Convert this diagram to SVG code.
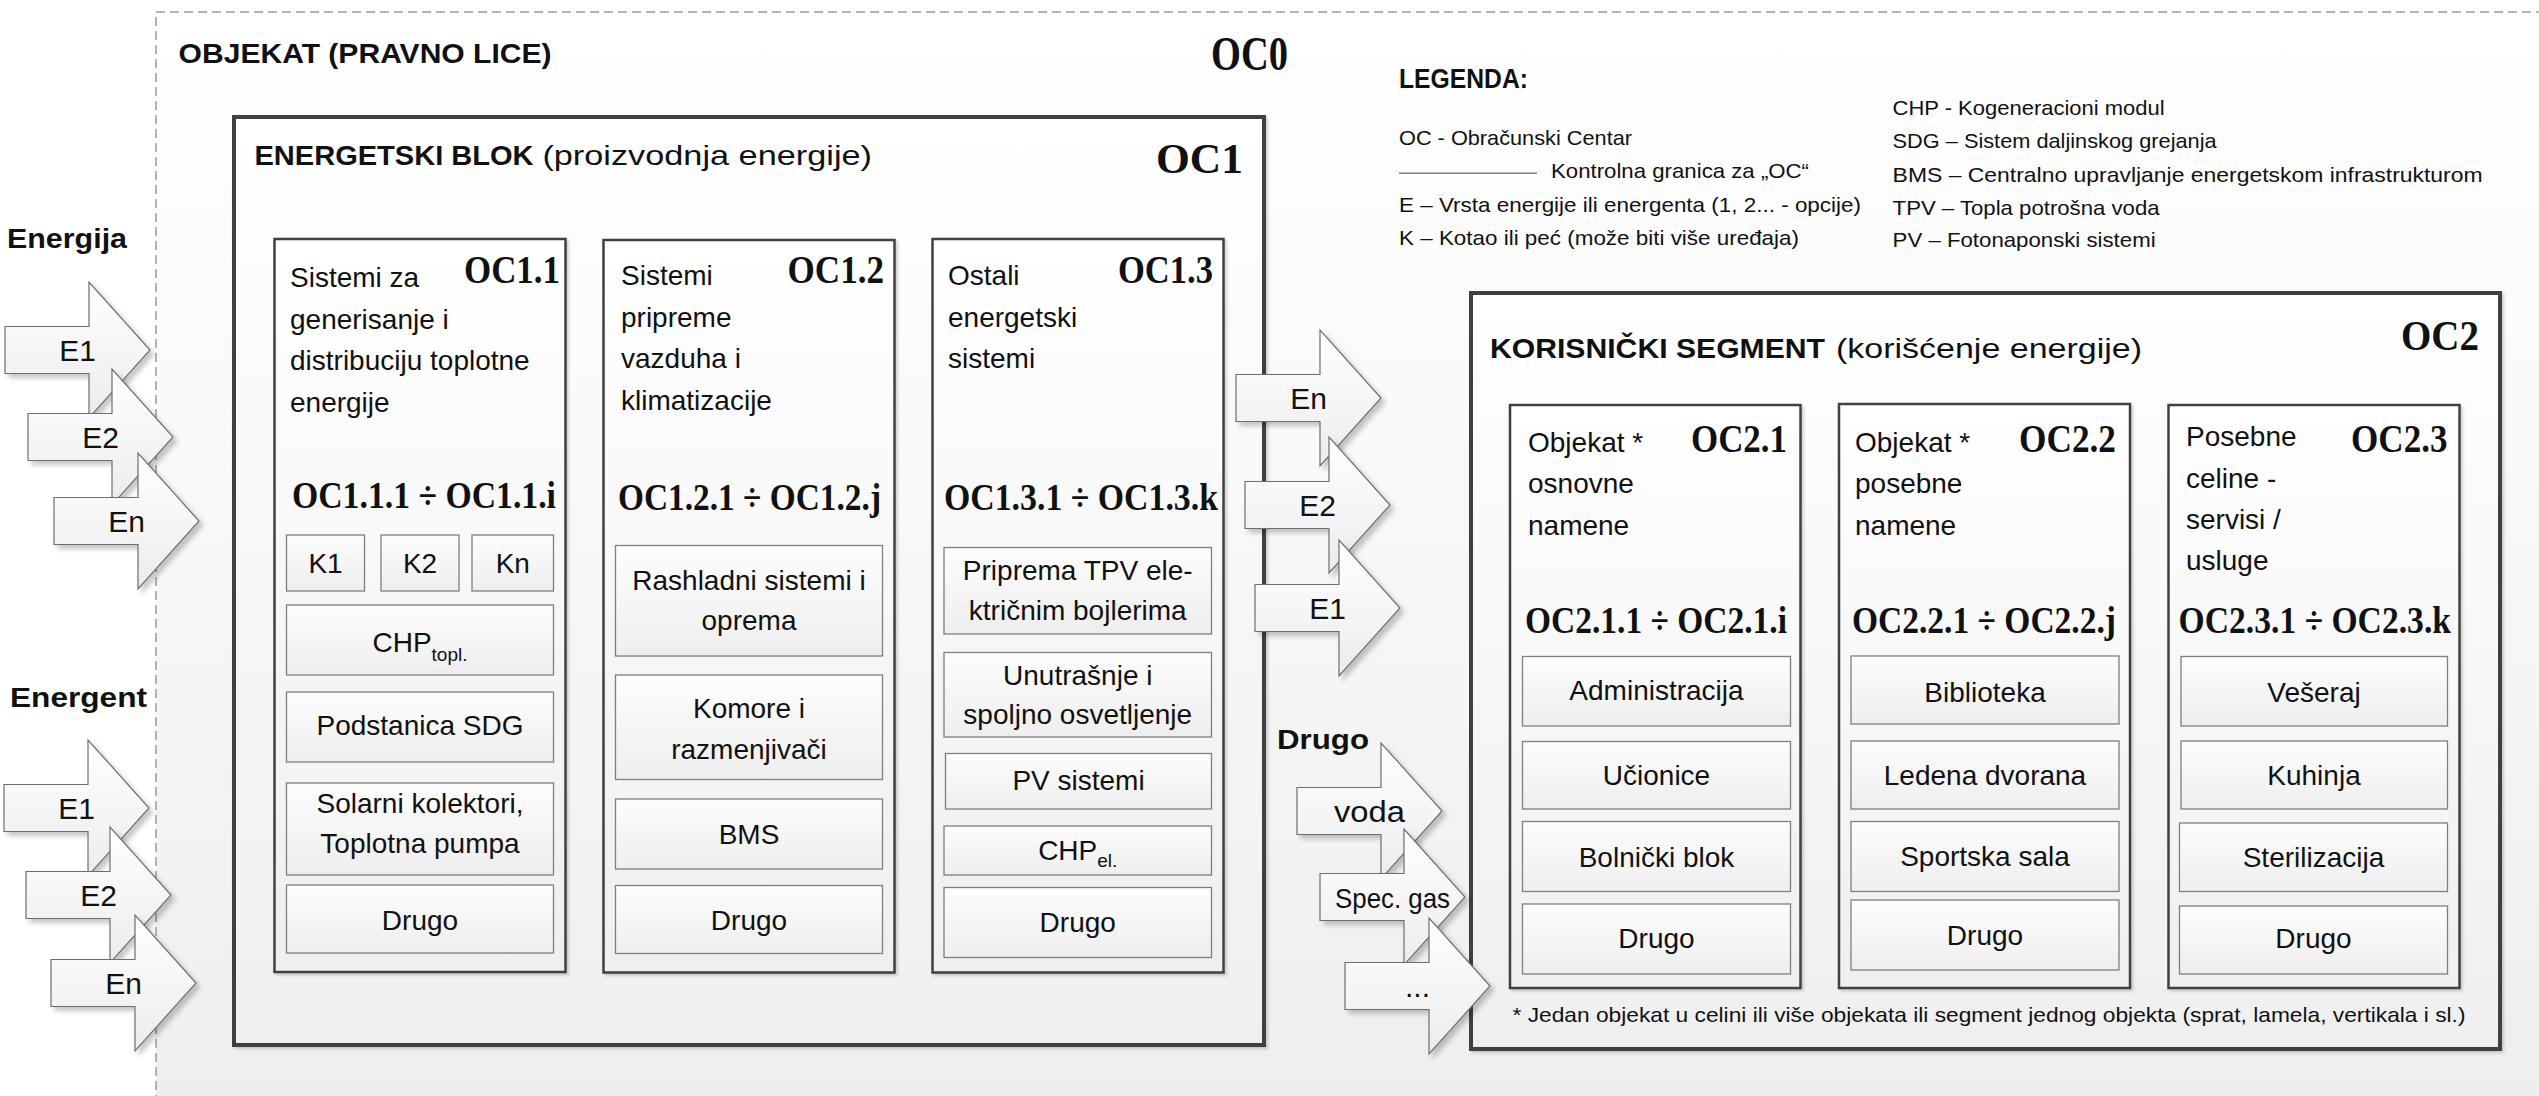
<svg xmlns="http://www.w3.org/2000/svg" xmlns:xlink="http://www.w3.org/1999/xlink" width="2539" height="1096" viewBox="0 0 2539 1096">
  <style>
    .t { font-family: "Liberation Sans", Arial, sans-serif; font-size: 28px; fill: #111; }
    .c { text-anchor: middle; }
    .b { font-weight: bold; }
    .lg { font-size: 21px; }
    .al { font-size: 30px; }
    .s { font-family: "Liberation Serif", "Times New Roman", serif; font-weight: bold; fill: #111; }
    .big { fill: url(#gBox); stroke: #404040; stroke-width: 4; filter: url(#shBox); }
    .mid { fill: url(#gBox); stroke: #404040; stroke-width: 2.5; filter: url(#shBox); }
    .item { fill: url(#gItem); stroke: #7f7f7f; stroke-width: 1.3; }
    .arrow { fill: url(#gArrow); stroke: #6e6e6e; stroke-width: 1.2; filter: url(#shArrow); }
  </style>
  <defs>
    <linearGradient id="gPage" x1="0" y1="0" x2="0" y2="1">
      <stop offset="0" stop-color="#ffffff"/>
      <stop offset="0.35" stop-color="#fafafa"/>
      <stop offset="1" stop-color="#eeeeee"/>
    </linearGradient>
    <linearGradient id="gBox" x1="0" y1="0" x2="0" y2="1">
      <stop offset="0" stop-color="#ffffff"/>
      <stop offset="1" stop-color="#efefef"/>
    </linearGradient>
    <linearGradient id="gItem" x1="0" y1="0" x2="0" y2="1">
      <stop offset="0" stop-color="#fdfdfd"/>
      <stop offset="1" stop-color="#eeeeee"/>
    </linearGradient>
    <linearGradient id="gArrow" x1="0" y1="0" x2="0" y2="1">
      <stop offset="0" stop-color="#ffffff"/>
      <stop offset="1" stop-color="#ececec"/>
    </linearGradient>
    <filter id="shArrow" x="-10%" y="-10%" width="130%" height="130%">
      <feDropShadow dx="4" dy="4" stdDeviation="2.5" flood-color="#000" flood-opacity="0.22"/>
    </filter>
    <filter id="shBox" x="-5%" y="-5%" width="110%" height="110%">
      <feDropShadow dx="2" dy="2" stdDeviation="1.5" flood-color="#000" flood-opacity="0.18"/>
    </filter>
    <!-- block arrow: shaft from x=0, centred on y=0, tip at x=145 -->
    <path id="arw" d="M0,-23.5 H84 V-68 L145,0 L84,68 V23.5 H0 Z"/>
  </defs>

  <!-- page -->
  <rect x="0" y="0" width="2539" height="1096" fill="#ffffff"/>

  <!-- OC0: legal entity frame -->
  <g id="oc0">
    <rect x="156" y="12" width="2400" height="1100" fill="url(#gPage)" stroke="#9a9a9a" stroke-width="1.5" stroke-dasharray="9 5"/>
    <text class="t b" x="178.6" y="63" font-size="34" textLength="373" lengthAdjust="spacingAndGlyphs">OBJEKAT (PRAVNO LICE)</text>
    <text class="s" x="1211" y="70" font-size="48" textLength="77" lengthAdjust="spacingAndGlyphs">OC0</text>
  </g>

  <!-- input group labels -->
  <g id="labels">
    <text class="t b" x="7" y="248" font-size="30" textLength="120" lengthAdjust="spacingAndGlyphs">Energija</text>
    <text class="t b" x="10" y="707" font-size="30" textLength="137" lengthAdjust="spacingAndGlyphs">Energent</text>
    <text class="t b" x="1277" y="749" font-size="30" textLength="92" lengthAdjust="spacingAndGlyphs">Drugo</text>
  </g>

  <!-- legend -->
  <g id="legend">
    <text class="t b" x="1399" y="88" font-size="23" textLength="129" lengthAdjust="spacingAndGlyphs">LEGENDA:</text>
    <text class="t lg" x="1399" y="145" textLength="233" lengthAdjust="spacingAndGlyphs">OC - Obračunski Centar</text>
    <line x1="1399" y1="173.3" x2="1537" y2="173.3" stroke="#7f7f7f" stroke-width="1.5"/>
    <text class="t lg" x="1551" y="178.3" textLength="258" lengthAdjust="spacingAndGlyphs">Kontrolna granica za „OC“</text>
    <text class="t lg" x="1399" y="211.7" textLength="462" lengthAdjust="spacingAndGlyphs">E – Vrsta energije ili energenta (1, 2... - opcije)</text>
    <text class="t lg" x="1399" y="245" textLength="400" lengthAdjust="spacingAndGlyphs">K – Kotao ili peć (može biti više uređaja)</text>
    <text class="t lg" x="1892.6" y="115" textLength="272" lengthAdjust="spacingAndGlyphs">CHP - Kogeneracioni modul</text>
    <text class="t lg" x="1892.6" y="148.3" textLength="324" lengthAdjust="spacingAndGlyphs">SDG – Sistem daljinskog grejanja</text>
    <text class="t lg" x="1892.6" y="181.7" textLength="590" lengthAdjust="spacingAndGlyphs">BMS – Centralno upravljanje energetskom infrastrukturom</text>
    <text class="t lg" x="1892.6" y="215" textLength="267" lengthAdjust="spacingAndGlyphs">TPV – Topla potrošna voda</text>
    <text class="t lg" x="1892.6" y="246.7" textLength="263" lengthAdjust="spacingAndGlyphs">PV – Fotonaponski sistemi</text>
  </g>

  <!-- OC1: energy block -->
  <g id="oc1">
    <rect class="big" x="234" y="117" width="1030" height="928"/>
    <text class="t b" x="254.5" y="165" font-size="32" textLength="279" lengthAdjust="spacingAndGlyphs">ENERGETSKI BLOK</text>
    <text class="t" x="542.4" y="165" font-size="32" textLength="329.6" lengthAdjust="spacingAndGlyphs">(proizvodnja energije)</text>
    <text class="s" x="1156" y="173" font-size="42" textLength="87" lengthAdjust="spacingAndGlyphs">OC1</text>
  </g>

  <g id="oc1-1">
    <rect class="mid" x="274.5" y="239" width="291" height="733"/>
    <text class="t" x="290" y="287">Sistemi za</text>
    <text class="t" x="290" y="329">generisanje i</text>
    <text class="t" x="290" y="370">distribuciju toplotne</text>
    <text class="t" x="290" y="412">energije</text>
    <text class="s" x="464" y="283" font-size="39" textLength="96" lengthAdjust="spacingAndGlyphs">OC1.1</text>
    <text class="s" x="292" y="508" font-size="37" textLength="264" lengthAdjust="spacingAndGlyphs">OC1.1.1 ÷ OC1.1.i</text>
    <g id="oc1-1-k1"><rect class="item" x="286.5" y="535" width="78" height="56"/><text class="t c" x="325.5" y="573">K1</text></g>
    <g id="oc1-1-k2"><rect class="item" x="381" y="535" width="78" height="56"/><text class="t c" x="420" y="573">K2</text></g>
    <g id="oc1-1-kn"><rect class="item" x="472" y="535" width="81.5" height="56"/><text class="t c" x="512.75" y="573">Kn</text></g>
    <g id="oc1-1-chp"><rect class="item" x="286.5" y="605" width="267" height="70"/><text class="t c" x="420" y="652">CHP<tspan font-size="19" dy="9">topl.</tspan></text></g>
    <g id="oc1-1-sdg"><rect class="item" x="286.5" y="692" width="267" height="70"/><text class="t c" x="420" y="735">Podstanica SDG</text></g>
    <g id="oc1-1-sol"><rect class="item" x="286.5" y="783" width="267" height="92"/><text class="t c" x="420" y="813">Solarni kolektori,</text><text class="t c" x="420" y="853">Toplotna pumpa</text></g>
    <g id="oc1-1-drugo"><rect class="item" x="286.5" y="885" width="267" height="68"/><text class="t c" x="420" y="930">Drugo</text></g>
  </g>

  <g id="oc1-2">
    <rect class="mid" x="603.5" y="240" width="291" height="732.5"/>
    <text class="t" x="621" y="285">Sistemi</text>
    <text class="t" x="621" y="327">pripreme</text>
    <text class="t" x="621" y="368">vazduha i</text>
    <text class="t" x="621" y="410">klimatizacije</text>
    <text class="s" x="787.5" y="283" font-size="39" textLength="96.5" lengthAdjust="spacingAndGlyphs">OC1.2</text>
    <text class="s" x="618" y="510" font-size="37" textLength="263" lengthAdjust="spacingAndGlyphs">OC1.2.1 ÷ OC1.2.j</text>
    <g id="oc1-2-rash"><rect class="item" x="615.5" y="545.5" width="267" height="110.5"/><text class="t c" x="749" y="590">Rashladni sistemi i</text><text class="t c" x="749" y="630">oprema</text></g>
    <g id="oc1-2-kom"><rect class="item" x="615.5" y="675" width="267" height="104.5"/><text class="t c" x="749" y="718">Komore i</text><text class="t c" x="749" y="759">razmenjivači</text></g>
    <g id="oc1-2-bms"><rect class="item" x="615.5" y="799" width="267" height="70"/><text class="t c" x="749" y="843.5">BMS</text></g>
    <g id="oc1-2-drugo"><rect class="item" x="615.5" y="885.5" width="267" height="68"/><text class="t c" x="749" y="930">Drugo</text></g>
  </g>

  <g id="oc1-3">
    <rect class="mid" x="932.5" y="239" width="291" height="733.5"/>
    <text class="t" x="948" y="285">Ostali</text>
    <text class="t" x="948" y="327">energetski</text>
    <text class="t" x="948" y="368">sistemi</text>
    <text class="s" x="1118" y="283" font-size="39" textLength="95" lengthAdjust="spacingAndGlyphs">OC1.3</text>
    <text class="s" x="944" y="510" font-size="37" textLength="274" lengthAdjust="spacingAndGlyphs">OC1.3.1 ÷ OC1.3.k</text>
    <g id="oc1-3-tpv"><rect class="item" x="944" y="547.5" width="267.5" height="86.5"/><text class="t c" x="1077.75" y="580">Priprema TPV ele-</text><text class="t c" x="1077.75" y="620">ktričnim bojlerima</text></g>
    <g id="oc1-3-osv"><rect class="item" x="944" y="652.5" width="267.5" height="84.5"/><text class="t c" x="1077.75" y="685">Unutrašnje i</text><text class="t c" x="1077.75" y="724">spoljno osvetljenje</text></g>
    <g id="oc1-3-pv"><rect class="item" x="945.5" y="753.5" width="266" height="55.5"/><text class="t c" x="1078.5" y="790">PV sistemi</text></g>
    <g id="oc1-3-chp"><rect class="item" x="944" y="826" width="267.5" height="49"/><text class="t c" x="1077.75" y="860">CHP<tspan font-size="19" dy="7">el.</tspan></text></g>
    <g id="oc1-3-drugo"><rect class="item" x="944" y="887.5" width="267.5" height="70"/><text class="t c" x="1077.75" y="932">Drugo</text></g>
  </g>

  <!-- OC2: user segment -->
  <g id="oc2">
    <rect class="big" x="1471" y="293" width="1029" height="756"/>
    <text class="t b" x="1490" y="358" font-size="32" textLength="335" lengthAdjust="spacingAndGlyphs">KORISNIČKI SEGMENT</text>
    <text class="t" x="1836" y="358" font-size="32" textLength="306" lengthAdjust="spacingAndGlyphs">(korišćenje energije)</text>
    <text class="s" x="2401" y="350" font-size="42" textLength="78" lengthAdjust="spacingAndGlyphs">OC2</text>
    <text class="t lg" x="1512.5" y="1022" textLength="953" lengthAdjust="spacingAndGlyphs">* Jedan objekat u celini ili više objekata ili segment jednog objekta (sprat, lamela, vertikala i sl.)</text>
  </g>

  <g id="oc2-1">
    <rect class="mid" x="1510" y="405" width="290.5" height="583"/>
    <text class="t" x="1528" y="452">Objekat *</text>
    <text class="t" x="1528" y="493">osnovne</text>
    <text class="t" x="1528" y="535">namene</text>
    <text class="s" x="1691" y="452" font-size="39" textLength="96" lengthAdjust="spacingAndGlyphs">OC2.1</text>
    <text class="s" x="1525" y="633" font-size="37" textLength="262" lengthAdjust="spacingAndGlyphs">OC2.1.1 ÷ OC2.1.i</text>
    <g id="oc2-1-adm"><rect class="item" x="1522.5" y="656.5" width="268" height="69.5"/><text class="t c" x="1656.5" y="700">Administracija</text></g>
    <g id="oc2-1-uci"><rect class="item" x="1522.5" y="741.5" width="268" height="67.5"/><text class="t c" x="1656.5" y="785">Učionice</text></g>
    <g id="oc2-1-bol"><rect class="item" x="1522.5" y="821.5" width="268" height="70"/><text class="t c" x="1656.5" y="866.5">Bolnički blok</text></g>
    <g id="oc2-1-drugo"><rect class="item" x="1522.5" y="904" width="268" height="70"/><text class="t c" x="1656.5" y="948">Drugo</text></g>
  </g>

  <g id="oc2-2">
    <rect class="mid" x="1839" y="404" width="291" height="584"/>
    <text class="t" x="1855" y="452">Objekat *</text>
    <text class="t" x="1855" y="493">posebne</text>
    <text class="t" x="1855" y="535">namene</text>
    <text class="s" x="2019" y="452" font-size="39" textLength="97" lengthAdjust="spacingAndGlyphs">OC2.2</text>
    <text class="s" x="1852" y="633" font-size="37" textLength="264" lengthAdjust="spacingAndGlyphs">OC2.2.1 ÷ OC2.2.j</text>
    <g id="oc2-2-bib"><rect class="item" x="1851" y="656" width="268" height="68"/><text class="t c" x="1985" y="701.5">Biblioteka</text></g>
    <g id="oc2-2-led"><rect class="item" x="1851" y="741" width="268" height="68"/><text class="t c" x="1985" y="785">Ledena dvorana</text></g>
    <g id="oc2-2-spo"><rect class="item" x="1851" y="821.5" width="268" height="70"/><text class="t c" x="1985" y="865.5">Sportska sala</text></g>
    <g id="oc2-2-drugo"><rect class="item" x="1851" y="900" width="268" height="70"/><text class="t c" x="1985" y="945">Drugo</text></g>
  </g>

  <g id="oc2-3">
    <rect class="mid" x="2168.5" y="405" width="291" height="583"/>
    <text class="t" x="2186" y="446">Posebne</text>
    <text class="t" x="2186" y="488">celine -</text>
    <text class="t" x="2186" y="529">servisi /</text>
    <text class="t" x="2186" y="570">usluge</text>
    <text class="s" x="2351" y="452" font-size="39" textLength="96.5" lengthAdjust="spacingAndGlyphs">OC2.3</text>
    <text class="s" x="2178.6" y="633" font-size="37" textLength="272.4" lengthAdjust="spacingAndGlyphs">OC2.3.1 ÷ OC2.3.k</text>
    <g id="oc2-3-ves"><rect class="item" x="2181" y="656.5" width="266.5" height="69.5"/><text class="t c" x="2314" y="702">Vešeraj</text></g>
    <g id="oc2-3-kuh"><rect class="item" x="2181" y="741" width="266.5" height="68"/><text class="t c" x="2314" y="785">Kuhinja</text></g>
    <g id="oc2-3-ste"><rect class="item" x="2179.5" y="823" width="268" height="68.5"/><text class="t c" x="2313.5" y="866.5">Sterilizacija</text></g>
    <g id="oc2-3-drugo"><rect class="item" x="2179.5" y="906" width="268" height="68"/><text class="t c" x="2313.5" y="948">Drugo</text></g>
  </g>

  <!-- flow arrows (drawn last so they overlap the box borders) -->
  <g id="connectors">
    <g id="in-energija-e1"><use xlink:href="#arw" href="#arw" class="arrow" x="5" y="350"/><text class="t c al" x="77.5" y="361">E1</text></g>
    <g id="in-energija-e2"><use xlink:href="#arw" href="#arw" class="arrow" x="28" y="437"/><text class="t c al" x="100.5" y="448">E2</text></g>
    <g id="in-energija-en"><use xlink:href="#arw" href="#arw" class="arrow" x="54" y="521"/><text class="t c al" x="126.5" y="532">En</text></g>

    <g id="in-energent-e1"><use xlink:href="#arw" href="#arw" class="arrow" x="4" y="808"/><text class="t c al" x="76.5" y="819">E1</text></g>
    <g id="in-energent-e2"><use xlink:href="#arw" href="#arw" class="arrow" x="26" y="895"/><text class="t c al" x="98.5" y="906">E2</text></g>
    <g id="in-energent-en"><use xlink:href="#arw" href="#arw" class="arrow" x="51" y="983"/><text class="t c al" x="123.5" y="994">En</text></g>

    <g id="oc1-oc2-en"><use xlink:href="#arw" href="#arw" class="arrow" x="1236" y="398"/><text class="t c al" x="1308.5" y="409">En</text></g>
    <g id="oc1-oc2-e2"><use xlink:href="#arw" href="#arw" class="arrow" x="1245" y="505"/><text class="t c al" x="1317.5" y="516">E2</text></g>
    <g id="oc1-oc2-e1"><use xlink:href="#arw" href="#arw" class="arrow" x="1255" y="608"/><text class="t c al" x="1327.5" y="619">E1</text></g>

    <g id="in-drugo-voda"><use xlink:href="#arw" href="#arw" class="arrow" x="1297" y="811"/><text class="t c al" x="1369.5" y="822" textLength="71" lengthAdjust="spacingAndGlyphs">voda</text></g>
    <g id="in-drugo-gas"><use xlink:href="#arw" href="#arw" class="arrow" x="1320" y="897"/><text class="t c" x="1392.5" y="908" textLength="115" lengthAdjust="spacingAndGlyphs">Spec. gas</text></g>
    <g id="in-drugo-ostalo"><use xlink:href="#arw" href="#arw" class="arrow" x="1345" y="986"/><text class="t c al" x="1417.5" y="997">...</text></g>
  </g>
</svg>
